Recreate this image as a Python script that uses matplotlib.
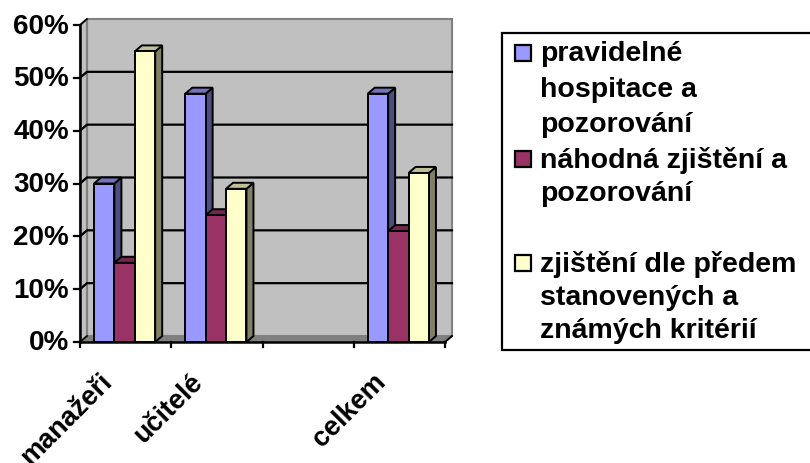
import matplotlib
matplotlib.use("Agg")
import matplotlib.pyplot as plt
from matplotlib.patches import Polygon, Rectangle

categories = ["manažeři", "učitelé", "", "celkem"]
pravidelne = [30, 47, None, 47]
nahodna = [15, 24, None, 21]
zjisteni = [55, 29, None, 32]
y_ticks = [0, 10, 20, 30, 40, 50, 60]

series_colors = ["#9999FF", "#993366", "#FFFFCC"]
side_colors = ["#4D4D80", "#4D1A33", "#808066"]
top_colors = ["#7373BF", "#732650", "#BFBF99"]

legend_lines = [
    ["pravidelné", "hospitace a", "pozorování"],
    ["náhodná zjištění a", "pozorování"],
    ["zjištění dle předem", "stanovených a", "známých kritérií"],
]
legend_line_y = [[53, 89, 124], [159, 193], [263, 297, 330]]

W, H = 810, 463
plt.rcParams["font.family"] = ["Liberation Sans", "DejaVu Sans"]
fig = plt.figure(figsize=(W / 100, H / 100), dpi=100)

left, right, bottom, top = 80, 445, 342, 25
ax = fig.add_axes([left / W, 1 - bottom / H, (right - left) / W, (bottom - top) / H])
ax.set_xlim(0, len(categories))
ax.set_ylim(0, 60)
ax.axis("off")

# depth of the fake 3D box, in data units (7 px right, 6 px up)
px_x = len(categories) / (right - left)
px_y = 60 / (bottom - top)
dx = 7 * px_x
dy = 6 * px_y


def poly(points, color, edge="none", lw=0.0, z=1):
    ax.add_patch(Polygon(points, closed=True, facecolor=color, edgecolor=edge,
                         linewidth=lw, clip_on=False, zorder=z, joinstyle="miter"))


xmax = len(categories)
# back wall, left wall, floor
poly([(dx, dy), (xmax + dx, dy), (xmax + dx, 60 + dy), (dx, 60 + dy)], "#C0C0C0", "#808080", 1.5)
poly([(0, 0), (dx, dy), (dx, 60 + dy), (0, 60)], "#C0C0C0", "#808080", 1.5)
poly([(0, 0), (xmax, 0), (xmax + dx, dy), (dx, dy)], "#808080", "#808080", 1)

for v in y_ticks:
    if v > 0 and v < 60:
        ax.plot([0, dx, xmax + dx], [v, v + dy, v + dy], color="black", lw=1.6, zorder=2, clip_on=False)

# axes and tick marks
ax.plot([0, 0], [0, 60], color="black", lw=1.8, zorder=6, clip_on=False)
ax.plot([0, xmax], [0, 0], color="black", lw=1.8, zorder=6, clip_on=False)
ax.plot([xmax, xmax + dx], [0, dy], color="black", lw=1.4, zorder=6, clip_on=False)
for v in y_ticks:
    ax.plot([-6 * px_x, 0], [v, v], color="black", lw=1.6, zorder=6, clip_on=False)
    ax.plot([0, dx], [v, v + dy], color="black", lw=1.2, zorder=2, clip_on=False)
    ax.text(-11 * px_x, v - 1.5 * px_y, f"{v}%", ha="right", va="center", fontsize=20, fontweight="bold")
for i in range(xmax + 1):
    ax.plot([i, i], [0, -5 * px_y], color="black", lw=1.6, zorder=6, clip_on=False)

# bars, drawn left to right so later ones cover the sides of earlier ones
bar_w = 20.4 * px_x
start = 14 * px_x
z = 3
for i in range(len(categories)):
    for s, values in enumerate([pravidelne, nahodna, zjisteni]):
        v = values[i]
        if v is None:
            continue
        x0 = i + start + s * bar_w
        x1 = x0 + bar_w
        poly([(x1, 0), (x1 + dx, dy), (x1 + dx, v + dy), (x1, v)], side_colors[s], "black", 1.4, z)
        poly([(x0, v), (x1, v), (x1 + dx, v + dy), (x0 + dx, v + dy)], top_colors[s], "black", 1.4, z)
        ax.bar(x0, v, width=bar_w, align="edge", color=series_colors[s], edgecolor="black",
               linewidth=1.4, zorder=z, clip_on=False)
        z += 0.01

for i, name in enumerate(categories):
    if name:
        ax.text(i + 0.5 - 27 * px_x, -27 * px_y, name, rotation=45, rotation_mode="anchor",
                ha="right", va="top", fontsize=19.5, fontweight="bold", clip_on=False)

# legend box runs up to the right edge of the figure
fig.add_artist(Rectangle((502 / W, 1 - 350 / H), 320 / W, 317 / H, transform=fig.transFigure,
                         facecolor="white", edgecolor="black", linewidth=1.6))
for s, lines in enumerate(legend_lines):
    yc = legend_line_y[s][0]
    fig.add_artist(Rectangle((515 / W, 1 - (yc + 8) / H), 16 / W, 16 / H, transform=fig.transFigure,
                             facecolor=series_colors[s], edgecolor="black", linewidth=1.6))
    for line, y in zip(lines, legend_line_y[s]):
        fig.text(540 / W, 1 - (y + 1) / H, line, ha="left", va="center", fontsize=20.5, fontweight="bold")

fig.savefig("out.png", dpi=100)
